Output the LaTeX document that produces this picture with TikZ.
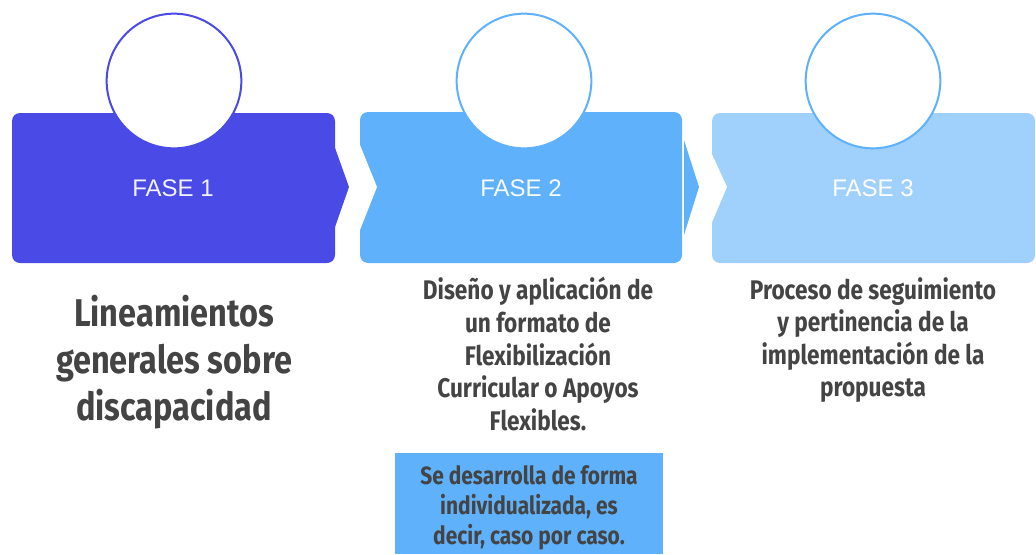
\documentclass[tikz,border=0pt]{standalone}
\usepackage{fontspec}
\setmainfont{Fira Sans}
\newfontfamily\descfont{Fira Sans}[FakeStretch=0.84]
\newfontfamily\fasefont{Liberation Sans}
\usepackage{tikz}

\definecolor{faseuno}{HTML}{4A4AE6}
\definecolor{fasedos}{HTML}{5EB1FA}
\definecolor{fasetres}{HTML}{A0D1FC}
\definecolor{texto}{HTML}{444444}

\begin{document}
\begin{tikzpicture}[x=0.75pt,y=-0.75pt]
\tikzstyle{every node}+=[inner sep=0pt]
\tikzstyle{ronda}=[circle, fill=white, line width=1.5pt, minimum size=101pt]
\tikzstyle{fase}=[font=\fasefont\fontsize{18}{20}\selectfont]
\tikzstyle{desc}=[align=center, text=texto, font=\descfont\bfseries\fontsize{20.2}{24.4}\selectfont]
\useasboundingbox (0,0) rectangle (1036,554);
% fase 1
\fill [faseuno, rounded corners=6pt] (12,113) rectangle (335,263);
\fill [faseuno] (334,145) -- (349,187) -- (334,230) -- cycle;
\node [ronda, draw=faseuno] (c1) at (174,81) {};
\node [fase, text=white!93!faseuno] (f1) at (173,188) {FASE 1};
% fase 2
\fill [fasedos, rounded corners=6pt] (360,112) rectangle (682,263);
\fill [white] (358,140) -- (377,187) -- (358,235) -- cycle;
\fill [fasedos] (684,140) -- (699,187) -- (684,235) -- cycle;
\node [ronda, draw=fasedos] (c2) at (524,81) {};
\node [fase, text=white!95!fasedos] (f2) at (521,188) {FASE 2};
% fase 3
\fill [fasetres, rounded corners=6pt] (712,113) rectangle (1035,263);
\fill [white] (710,150) -- (727,187) -- (710,227) -- cycle;
\node [ronda, draw=fasedos] (c3) at (873,81) {};
\node [fase, text=white] (f3) at (873,188) {FASE 3};
% textos
\node [desc, font=\descfont\bfseries\fontsize{29}{35.3}\selectfont] (t1) at (174,362)
  {Lineamientos\\generales sobre\\discapacidad};
\node [desc] (t2) at (538,354)
  {Diseño y aplicación de\\un formato de\\Flexibilización\\Curricular o Apoyos\\Flexibles.};
\node [desc] (t3) at (873,340)
  {Proceso de seguimiento\\y pertinencia de la\\implementación de la\\propuesta};
\fill [fasedos] (395,453) rectangle (663,554);
\node [desc, font=\descfont\bfseries\fontsize{18.7}{22.5}\selectfont] (t4) at (529,508)
  {Se desarrolla de forma\\individualizada, es\\decir, caso por caso.};
\end{tikzpicture}
\end{document}
